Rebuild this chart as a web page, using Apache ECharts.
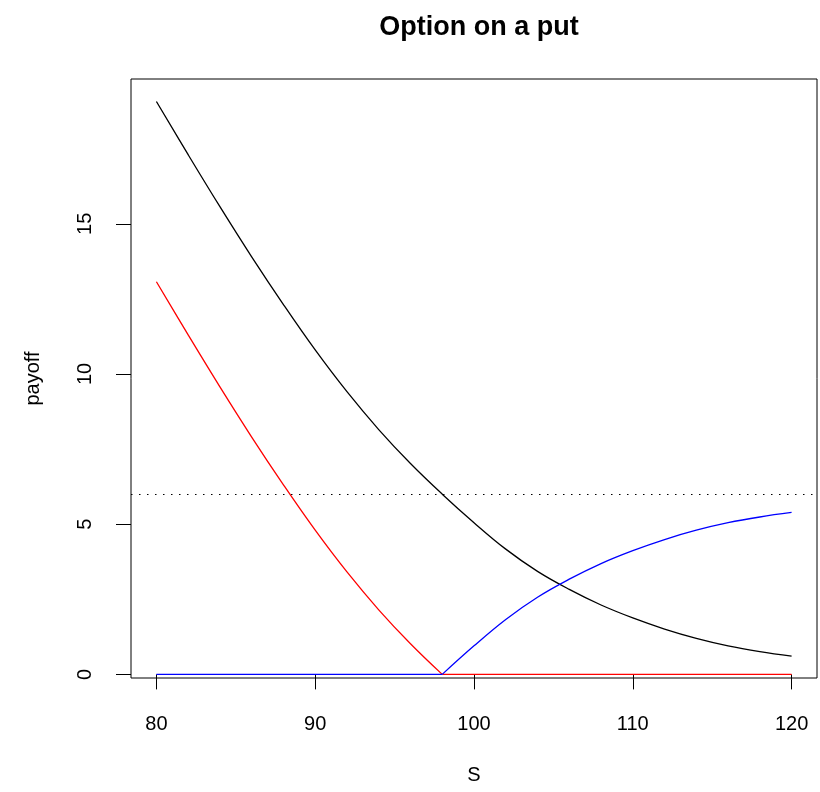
<!DOCTYPE html>
<html>
<head>
<meta charset="utf-8">
<script src="https://cdn.jsdelivr.net/npm/echarts@6/dist/echarts.min.js"></script>
<style>
  html, body { margin: 0; padding: 0; background: #ffffff; }
  #chart { width: 820px; height: 792px; }
</style>
</head>
<body>
<div id="chart"></div>
<script>
// Underlying asset price
const S = [80, 82, 84, 86, 88, 90, 92, 94, 96, 98, 100, 102, 104, 106, 108, 110, 112, 114, 116, 118, 120];
// Value of the underlying put
const putValue = [19.07, 17.30, 15.57, 13.90, 12.31, 10.80, 9.41, 8.15, 7.02, 6.00, 5.05, 4.17, 3.43, 2.83, 2.31, 1.88, 1.51, 1.20, 0.95, 0.76, 0.61];
// Payoff of a call on the put (strike 6)
const callOnPut = [13.07, 11.30, 9.57, 7.90, 6.31, 4.80, 3.41, 2.15, 1.02, 0, 0, 0, 0, 0, 0, 0, 0, 0, 0, 0, 0];
// Payoff of a put on the put (strike 6)
const putOnPut = [0, 0, 0, 0, 0, 0, 0, 0, 0, 0, 0.95, 1.83, 2.57, 3.17, 3.69, 4.12, 4.49, 4.80, 5.05, 5.24, 5.39];
// Compound option strike
const strike = 6;
// Axis tick values
const xTicks = [80, 90, 100, 110, 120];
const yTicks = [0, 5, 10, 15];

const pairs = (ys) => S.map((s, i) => [s, ys[i]]);
// Price where the put is worth exactly the strike: both payoffs kink here
const kink = putValue.indexOf(strike);

const FONT = '"Liberation Sans", Arial, Helvetica, sans-serif';
const chart = echarts.init(document.getElementById('chart'), null, { renderer: 'canvas' });

function curve(name, data, color, smooth, z) {
  return {
    name: name,
    type: 'line',
    data: data,
    showSymbol: false,
    symbol: 'none',
    smooth: smooth,
    lineStyle: { color: color, width: 1.3 },
    z: z
  };
}

const putSeries = curve('put', pairs(putValue), '#000000', 0.4, 2);
putSeries.markLine = {
  silent: true,
  symbol: ['none', 'none'],
  label: { show: false },
  lineStyle: { color: '#000000', width: 1.2, type: [1.5, 6.5] },
  data: [{ yAxis: strike }]
};

const call = pairs(callOnPut);
const put = pairs(putOnPut);

chart.setOption({
  backgroundColor: '#ffffff',
  animation: false,
  title: {
    text: 'Option on a put',
    left: 474,
    top: 9,
    textAlign: 'center',
    textStyle: { fontFamily: FONT, fontSize: 27, fontWeight: 'bold', color: '#000' }
  },
  grid: {
    left: 131, right: 3, top: 79, bottom: 114,
    show: true, borderColor: '#000', borderWidth: 1, backgroundColor: 'transparent'
  },
  xAxis: {
    type: 'value',
    min: 78.4, max: 121.6,
    name: 'S',
    nameLocation: 'middle',
    nameGap: 87,
    nameTextStyle: { fontFamily: FONT, fontSize: 20, color: '#000' },
    axisLine: { show: false },
    axisTick: { show: true, length: 15, inside: false, customValues: xTicks, lineStyle: { color: '#000', width: 1 } },
    axisLabel: { customValues: xTicks, margin: 36, fontFamily: FONT, fontSize: 20, color: '#000' },
    splitLine: { show: false }
  },
  yAxis: {
    type: 'value',
    min: -0.12, max: 19.82,
    name: 'payoff',
    nameLocation: 'middle',
    nameGap: 88,
    nameRotate: 90,
    nameTextStyle: { fontFamily: FONT, fontSize: 20, color: '#000' },
    axisLine: { show: false },
    axisTick: { show: true, length: 15, inside: false, customValues: yTicks, lineStyle: { color: '#000', width: 1 } },
    axisLabel: { customValues: yTicks, rotate: 90, margin: 36, fontFamily: FONT, fontSize: 20, color: '#000' },
    splitLine: { show: false }
  },
  series: [
    putSeries,
    curve('call on put', call.slice(0, kink + 1), '#ff0000', 0.4, 3),
    curve('call on put (flat)', call.slice(kink), '#ff0000', false, 3),
    curve('put on put (flat)', put.slice(0, kink + 1), '#0000ff', false, 4),
    curve('put on put', put.slice(kink), '#0000ff', 0.4, 4)
  ]
});
</script>
</body>
</html>
